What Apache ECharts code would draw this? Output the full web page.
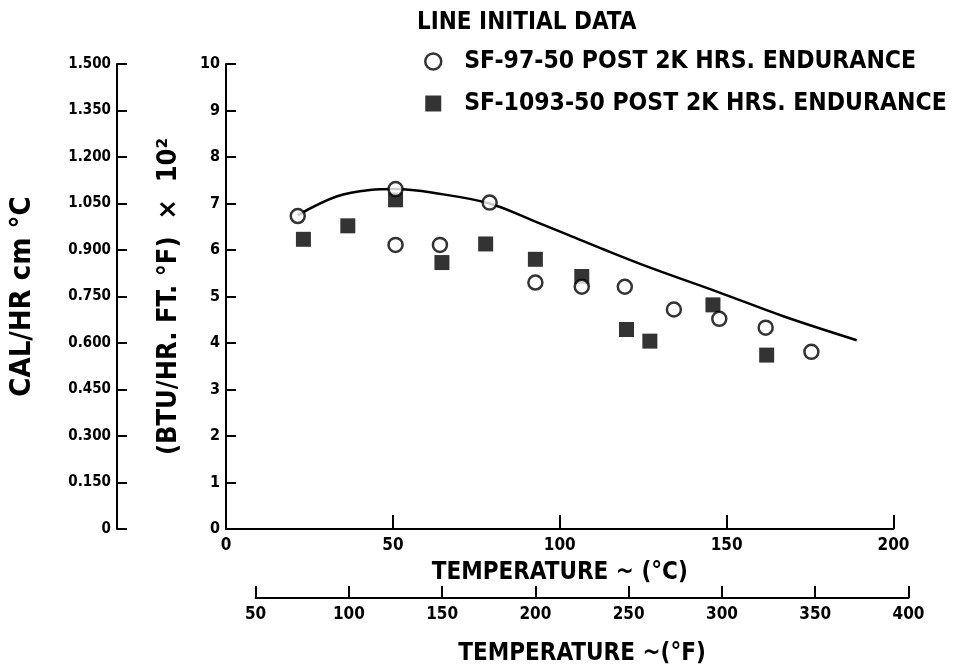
<!DOCTYPE html>
<html>
<head>
<meta charset="utf-8">
<script src="https://cdn.jsdelivr.net/npm/echarts@6/dist/echarts.min.js"></script>
<style>html,body{margin:0;padding:0;background:#fff}#c{width:957px;height:669px}</style>
</head>
<body>
<div id="c"></div>
<script>
// Data (temperature in °C, conductivity in BTU/HR.FT.°F x 10^2)
const circleTemp = [21.5, 50.8, 50.8, 64.1, 79.0, 92.7, 106.6, 119.5, 134.2, 147.8, 161.7, 175.4];
const circleCond = [6.73, 7.31, 6.11, 6.11, 7.02, 5.30, 5.21, 5.21, 4.72, 4.52, 4.33, 3.81];
const squareTemp = [23.2, 36.5, 50.8, 64.7, 77.8, 92.7, 106.6, 120.0, 127.0, 145.9, 162.0];
const squareCond = [6.23, 6.52, 7.08, 5.73, 6.13, 5.80, 5.43, 4.29, 4.04, 4.82, 3.74];
const lineTemp = [21.5, 33.1, 43.1, 50.8, 62.9, 79.0, 92.7, 102.7, 113.6, 127.5, 147.3, 167.2, 189.0];
const lineCond = [6.75, 7.15, 7.29, 7.31, 7.22, 7.00, 6.61, 6.32, 6.00, 5.61, 5.10, 4.57, 4.06];
const seriesNames = ['SF-97-50 POST 2K HRS. ENDURANCE', 'SF-1093-50 POST 2K HRS. ENDURANCE'];
const lineName = 'LINE INITIAL DATA';

const FONT = "'Liberation Sans Narrow', 'DejaVu Sans Condensed', 'Arial Narrow', sans-serif";
const txt = (size) => ({ color: '#000', fontFamily: FONT, fontWeight: 'bold', fontSize: size });

const chart = echarts.init(document.getElementById('c'), null, { renderer: 'canvas' });
const axisLine = { show: true, lineStyle: { color: '#000', width: 2 } };

const option = {
  backgroundColor: '#fff',
  animation: false,
  title: {
    text: lineName, left: 412, top: 6,
    textStyle: txt(24)
  },
  legend: {
    orient: 'vertical', left: 424, top: 49, itemGap: 17,
    itemWidth: 16, itemHeight: 16, padding: 0,
    textStyle: Object.assign(txt(24.5), { padding: [0, 0, 0, 18] }),
    data: [
      { name: seriesNames[0], icon: 'circle', itemStyle: { color: '#fff', borderColor: '#000', borderWidth: 2.5 } },
      { name: seriesNames[1], icon: 'rect', itemStyle: { color: '#000' } }
    ]
  },
  grid: [
    { left: 222, right: 63.5, top: 64, bottom: 140 },
    { left: 255.6, right: 48.5, top: 560, bottom: 71 }
  ],
  xAxis: [
    {
      gridIndex: 0, type: 'value', min: 0, max: 200, interval: 50,
      axisLine: axisLine, splitLine: { show: false },
      axisTick: { inside: true, length: 14, lineStyle: { color: '#000', width: 2 } },
      axisLabel: Object.assign(txt(17), { margin: 8 }),
      name: 'TEMPERATURE ~ (°C)', nameLocation: 'middle', nameGap: 32,
      nameTextStyle: txt(24)
    },
    {
      gridIndex: 1, type: 'value', min: 50, max: 400, interval: 50,
      axisLine: axisLine, splitLine: { show: false },
      axisTick: { inside: true, length: 12, lineStyle: { color: '#000', width: 2 } },
      axisLabel: Object.assign(txt(17), { margin: 8 }),
      name: 'TEMPERATURE ~(°F)', nameLocation: 'middle', nameGap: 44,
      nameTextStyle: txt(24)
    }
  ],
  yAxis: [
    {
      gridIndex: 0, type: 'value', min: 0, max: 10, interval: 1, position: 'left',
      axisLine: axisLine, splitLine: { show: false },
      axisTick: { inside: true, length: 10, lineStyle: { color: '#000', width: 2 } },
      axisLabel: Object.assign(txt(16), { margin: 6 }),
      name: '(BTU/HR. FT. °F)  ×  10²', nameLocation: 'middle', nameGap: 44, nameRotate: 90,
      nameTextStyle: txt(27)
    },
    {
      gridIndex: 0, type: 'value', min: 0, max: 1.5, interval: 0.15, position: 'left', offset: 109,
      axisLine: axisLine, splitLine: { show: false },
      axisTick: { inside: true, length: 10, lineStyle: { color: '#000', width: 2 } },
      axisLabel: Object.assign(txt(15), { margin: 6, formatter: v => v === 0 ? '0' : v.toFixed(3) }),
      name: 'CAL/HR cm °C', nameLocation: 'middle', nameGap: 80, nameRotate: 90,
      nameTextStyle: txt(29)
    },
    { gridIndex: 1, type: 'value', show: false, min: 0, max: 1 }
  ],
  series: [
    {
      name: lineName, type: 'line', xAxisIndex: 0, yAxisIndex: 0,
      data: lineTemp.map((t, i) => [t, lineCond[i]]),
      smooth: 0.35, symbol: 'none', lineStyle: { color: '#000', width: 2.5 }, z: 1
    },
    {
      name: seriesNames[1], type: 'scatter', xAxisIndex: 0, yAxisIndex: 0,
      data: squareTemp.map((t, i) => [t, squareCond[i]]),
      symbol: 'rect', symbolSize: 15, itemStyle: { color: '#000' }, z: 2
    },
    {
      name: seriesNames[0], type: 'scatter', xAxisIndex: 0, yAxisIndex: 0,
      data: circleTemp.map((t, i) => [t, circleCond[i]]),
      symbol: 'circle', symbolSize: 14,
      itemStyle: { color: '#fff', borderColor: '#000', borderWidth: 2.5 }, z: 3
    }
  ]
};
chart.setOption(option);
</script>
</body>
</html>
